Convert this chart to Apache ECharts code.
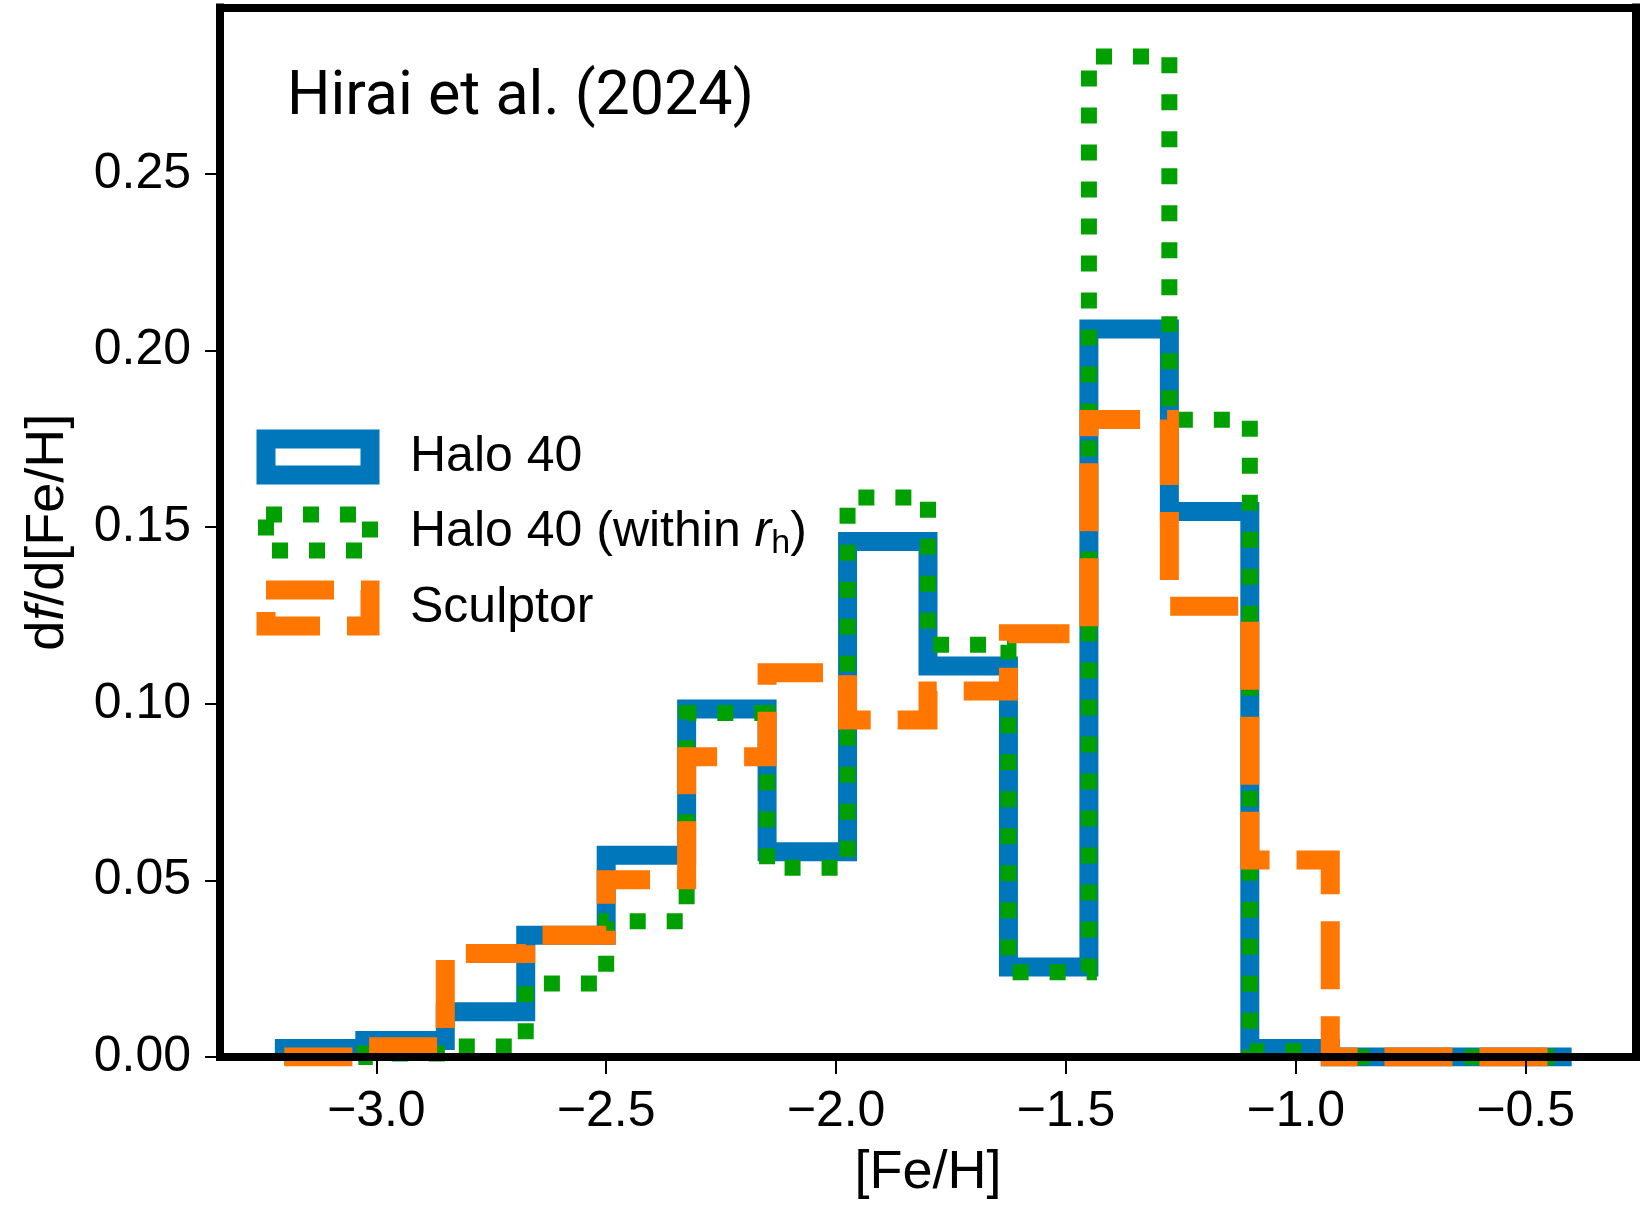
<!DOCTYPE html>
<html><head><meta charset="utf-8">
<script src="https://cdn.jsdelivr.net/npm/echarts@6/dist/echarts.min.js"></script>
<style>html,body{margin:0;padding:0;background:#fff}#c{width:1644px;height:1205px}</style>
</head><body><div id="c"></div>
<script>
// ---- data ----
const BIN_EDGES = [-3.2, -3.025, -2.85, -2.675, -2.5, -2.325, -2.15, -1.975, -1.8, -1.625, -1.45, -1.275, -1.1, -0.925, -0.75, -0.575, -0.4];
const HALO40    = [0.0024, 0.0047, 0.0128, 0.0345, 0.0571, 0.0985, 0.0581, 0.1459, 0.1107, 0.0255, 0.2061, 0.1544, 0.0024, 0, 0, 0];
const HALO40_RH = [0, 0.0010, 0.0030, 0.0208, 0.0384, 0.0974, 0.0536, 0.1584, 0.1167, 0.0240, 0.2832, 0.1804, 0.0016, 0, 0, 0];
const SCULPTOR  = [0, 0.0029, 0.0293, 0.0345, 0.0502, 0.0850, 0.1088, 0.0954, 0.1036, 0.1198, 0.1805, 0.1276, 0.0558, 0, 0, 0];
const X_TICKS = [-3.0, -2.5, -2.0, -1.5, -1.0, -0.5];
const Y_TICKS = [0, 0.05, 0.10, 0.15, 0.20, 0.25];
const NAMES = ['Halo 40', 'Halo 40 (within rh)', 'Sculptor'];
const TITLE_TEXT = 'Hirai et al. (2024)';
const X_NAME = '[Fe/H]';

// ---- style ----
const BLUE = '#0077BB', GREEN = '#00A000', ORANGE = '#FF7700';
const FONT = 'Liberation Sans';
const X_MIN = -3.34, X_MAX = -0.26, Y_MIN = 0, Y_MAX = 0.2971;

function stepPoints(edges, h) {
  const pts = [[edges[0], 0]];
  for (let i = 0; i < h.length; i++) {
    pts.push([edges[i], h[i]]);
    pts.push([edges[i + 1], h[i]]);
  }
  pts.push([edges[edges.length - 1], 0]);
  return pts;
}

const spine = { show: true, onZero: false, lineStyle: { color: '#000', width: 8, cap: 'square' } };

const chart = echarts.init(document.getElementById('c'), null, { renderer: 'canvas' });
chart.setOption({
  animation: false,
  backgroundColor: '#fff',
  title: {
    text: TITLE_TEXT, left: 287, top: 68, padding: 0,
    textStyle: { fontFamily: 'Roboto', fontSize: 61, fontWeight: 'normal', color: '#000' }
  },
  grid: { left: 220, right: 8, top: 7.5, bottom: 144.5, containLabel: false },
  legend: {
    orient: 'vertical', left: 256.5, top: 429, padding: 0,
    itemWidth: 104, itemHeight: 36, itemGap: 19.5,
    selectedMode: false,
    formatter: function (name) {
      if (name === NAMES[1]) return 'Halo 40 (within {i|r}{s|h})';
      return name;
    },
    textStyle: {
      fontFamily: FONT, fontSize: 50, color: '#000', lineHeight: 56, padding: [0, 0, 0, 35],
      rich: {
        i: { fontFamily: FONT, fontSize: 50, fontStyle: 'italic', color: '#000', lineHeight: 56 },
        s: { fontFamily: FONT, fontSize: 34, color: '#000', lineHeight: 34, verticalAlign: 'bottom' }
      }
    },
    data: [
      { name: NAMES[0], icon: 'rect', itemStyle: { color: 'rgba(0,0,0,0)', borderColor: BLUE, borderWidth: 19, borderType: 'solid', borderJoin: 'miter' } },
      { name: NAMES[1], icon: 'rect', itemStyle: { color: 'rgba(0,0,0,0)', borderColor: GREEN, borderWidth: 16, borderType: [16, 21], borderCap: 'butt', borderJoin: 'miter' } },
      { name: NAMES[2], icon: 'rect', itemStyle: { color: 'rgba(0,0,0,0)', borderColor: ORANGE, borderWidth: 19, borderType: [68, 27], borderCap: 'butt', borderJoin: 'miter' } }
    ]
  },
  xAxis: [{
    type: 'value', min: X_MIN, max: X_MAX, position: 'bottom', z: 10,
    name: X_NAME, nameLocation: 'middle', nameGap: 89,
    nameTextStyle: { fontFamily: FONT, fontSize: 54, color: '#000' },
    axisLine: spine,
    axisTick: { show: true, inside: false, length: 17, customValues: X_TICKS, lineStyle: { color: '#000', width: 2 } },
    axisLabel: {
      show: true, margin: 30, customValues: X_TICKS, fontFamily: FONT, fontSize: 50, color: '#000',
      formatter: v => (v < 0 ? '\u2212' : '') + Math.abs(v).toFixed(1)
    },
    splitLine: { show: false }
  }, {
    type: 'value', min: X_MIN, max: X_MAX, position: 'top', z: 10,
    axisLine: spine, axisTick: { show: false }, axisLabel: { show: false }, splitLine: { show: false }
  }],
  yAxis: [{
    type: 'value', min: Y_MIN, max: Y_MAX, position: 'left', z: 10,
    name: 'd{i|f}/d[Fe/H]', nameLocation: 'middle', nameGap: 145, nameRotate: 90,
    nameTextStyle: {
      fontFamily: FONT, fontSize: 54, color: '#000',
      rich: {
        i: { fontFamily: FONT, fontSize: 54, fontStyle: 'italic', color: '#000' }
      }
    },
    axisLine: spine,
    axisTick: { show: true, inside: false, length: 15, customValues: Y_TICKS, lineStyle: { color: '#000', width: 2 } },
    axisLabel: {
      show: true, margin: 29, customValues: Y_TICKS, fontFamily: FONT, fontSize: 50, color: '#000',
      formatter: v => v.toFixed(2)
    },
    splitLine: { show: false }
  }, {
    type: 'value', min: Y_MIN, max: Y_MAX, position: 'right', z: 10,
    axisLine: spine, axisTick: { show: false }, axisLabel: { show: false }, splitLine: { show: false }
  }],
  series: [
    {
      name: NAMES[0], type: 'line', xAxisIndex: 0, yAxisIndex: 0, z: 2,
      data: stepPoints(BIN_EDGES, HALO40), showSymbol: false, symbol: 'none', clip: true,
      color: BLUE,
      lineStyle: { color: BLUE, width: 19, type: 'solid', cap: 'butt', join: 'miter' }
    },
    {
      name: NAMES[1], type: 'line', xAxisIndex: 0, yAxisIndex: 0, z: 3,
      data: stepPoints(BIN_EDGES, HALO40_RH), showSymbol: false, symbol: 'none', clip: true,
      color: GREEN,
      lineStyle: { color: GREEN, width: 16, type: [16, 21], cap: 'butt', join: 'miter' }
    },
    {
      name: NAMES[2], type: 'line', xAxisIndex: 0, yAxisIndex: 0, z: 4,
      data: stepPoints(BIN_EDGES, SCULPTOR), showSymbol: false, symbol: 'none', clip: true,
      color: ORANGE,
      lineStyle: { color: ORANGE, width: 19, type: [68, 27], cap: 'butt', join: 'miter' }
    }
  ]
});
</script>
</body></html>
